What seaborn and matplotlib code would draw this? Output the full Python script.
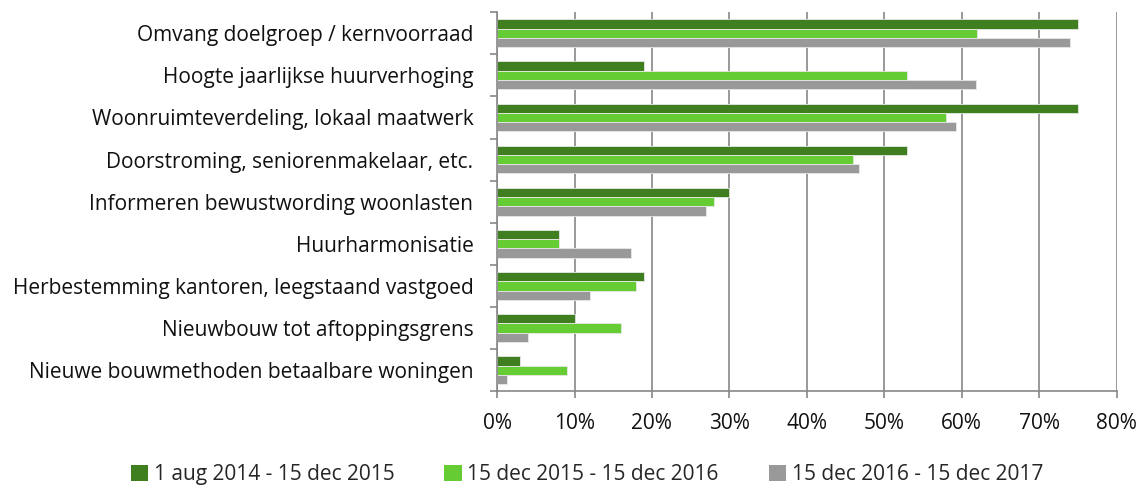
import matplotlib
matplotlib.use('Agg')
import matplotlib.pyplot as plt
import seaborn as sns
import pandas as pd
from matplotlib.ticker import FixedLocator, PercentFormatter
from matplotlib.patches import Patch

categories = [
    "Omvang doelgroep / kernvoorraad",
    "Hoogte jaarlijkse huurverhoging",
    "Woonruimteverdeling, lokaal maatwerk",
    "Doorstroming, seniorenmakelaar, etc.",
    "Informeren bewustwording woonlasten",
    "Huurharmonisatie",
    "Herbestemming kantoren, leegstaand vastgoed",
    "Nieuwbouw tot aftoppingsgrens",
    "Nieuwe bouwmethoden betaalbare woningen",
]
series_names = ["1 aug 2014 - 15 dec 2015", "15 dec 2015 - 15 dec 2016", "15 dec 2016 - 15 dec 2017"]
s1 = [75, 19, 75, 53, 30, 8, 19, 10, 3]
s2 = [62, 53, 58, 46, 28, 8, 18, 16, 9]
s3 = [74, 61.8, 59.3, 46.7, 27.0, 17.3, 12, 4, 1.3]
x_ticks = [0, 10, 20, 30, 40, 50, 60, 70, 80]
colors = ['#3F7F1F', '#66CC33', '#999999']

rows = []
for name, vals in zip(series_names, [s1, s2, s3]):
    for c, v in zip(categories, vals):
        rows.append({"category": c, "value": v, "series": name})
df = pd.DataFrame(rows)

sns.set_theme(style='white')
plt.rcParams['font.family'] = ['Open Sans', 'DejaVu Sans']
fig = plt.figure(figsize=(11.44, 4.86), dpi=100)
ax = fig.add_axes([0.4345, 0.195, 0.976 - 0.4345, 0.78])
sns.barplot(data=df, y='category', x='value', hue='series', hue_order=series_names,
            order=categories, palette=colors, orient='h', width=0.66, ax=ax,
            legend=False, saturation=1, edgecolor='#e8e8e8', linewidth=0.6)

grid_c = '#878787'
ax.set_xlim(0, 80)
ax.set_ylim(len(categories) - 0.5, -0.5)
ax.xaxis.set_major_locator(FixedLocator(x_ticks))
ax.xaxis.set_major_formatter(PercentFormatter(decimals=0))
ax.set_axisbelow(True)
ax.grid(axis='x', color=grid_c, linewidth=1.2)
ax.grid(axis='y', visible=False)
ax.set_xlabel('')
ax.set_ylabel('')
for s in ['top', 'right']:
    ax.spines[s].set_visible(False)
for s in ['left', 'bottom']:
    ax.spines[s].set_color(grid_c)
    ax.spines[s].set_linewidth(1.2)

ax.yaxis.set_minor_locator(FixedLocator([i - 0.5 for i in range(len(categories) + 1)]))
ax.tick_params(axis='y', which='major', length=0, pad=17, labelsize=15, labelcolor='#111111')
ax.tick_params(axis='y', which='minor', left=True, length=5, width=1.2, color=grid_c, direction='out')
ax.tick_params(axis='x', which='major', bottom=True, length=5, width=1.2, color=grid_c,
               direction='out', pad=11, labelsize=15, labelcolor='#111111')

handles = [Patch(facecolor=c, edgecolor='none') for c in colors]
fig.legend(handles, series_names, loc='lower center', bbox_to_anchor=(0.513, -0.037), ncol=3,
           frameon=False, fontsize=15, handlelength=0.85, handleheight=0.85,
           handletextpad=0.25, columnspacing=2.4)

fig.savefig('out.png', dpi=100)
